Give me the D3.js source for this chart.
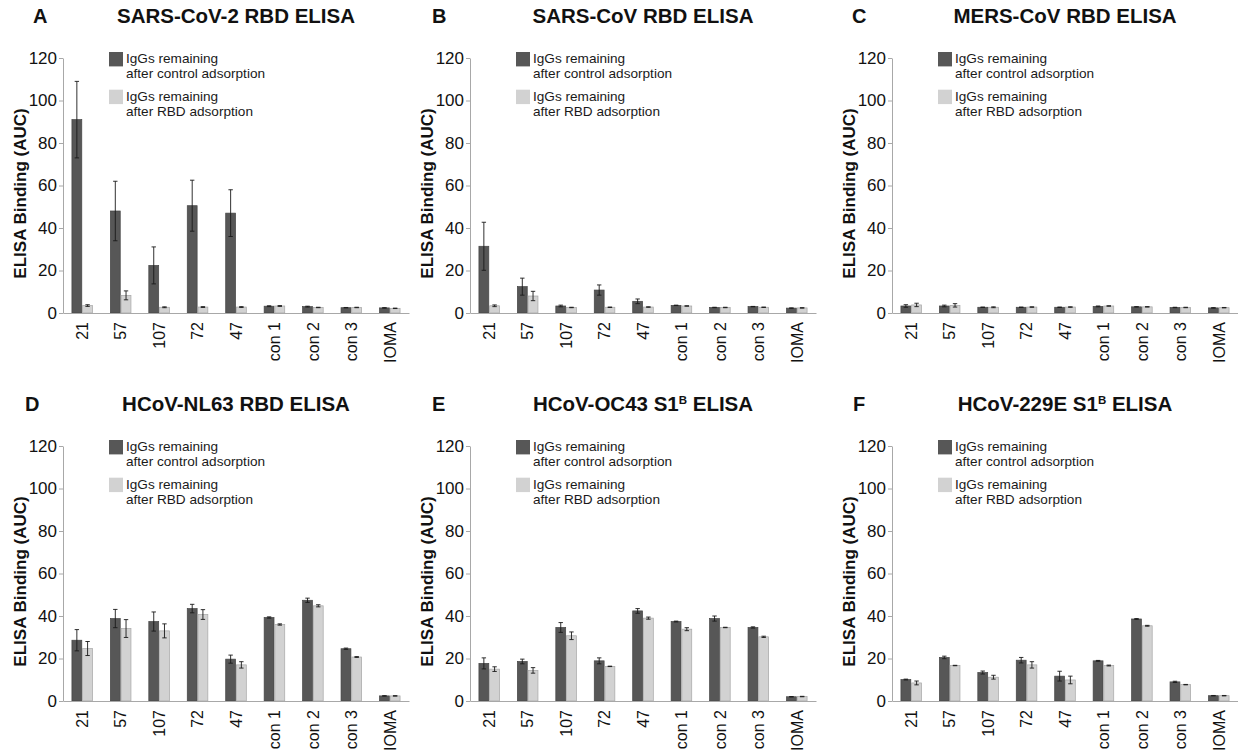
<!DOCTYPE html>
<html><head><meta charset="utf-8">
<script src="https://cdn.jsdelivr.net/npm/d3@7"></script>
<style>
body{margin:0;background:#fff}
svg{display:block}
text{font-family:"Liberation Sans",Arial,Helvetica,sans-serif}
</style>
</head><body><svg id="chart" width="1238" height="753"></svg>
<script>
// ---------- data ----------
const categories = ["21","57","107","72","47","con 1","con 2","con 3","IOMA"];
const yTicks = [0,20,40,60,80,100,120];
const seriesNames = ["control","rbd"];
const legendLine1 = ["IgGs remaining","IgGs remaining"];
const legendLine2 = ["after control adsorption","after RBD adsorption"];
const panelLetters = ["A","B","C","D","E","F"];
const panelTitles = ["SARS-CoV-2 RBD ELISA","SARS-CoV RBD ELISA","MERS-CoV RBD ELISA",
                     "HCoV-NL63 RBD ELISA","HCoV-OC43 S1^B ELISA","HCoV-229E S1^B ELISA"];
const yLabel = "ELISA Binding (AUC)";

// A: SARS-CoV-2 RBD
const sars2Control    = [91, 48, 22.4, 50.5, 47, 3.2, 3.0, 2.5, 2.4];
const sars2ControlErr = [18, 14, 8.7, 12, 11, 0.2, 0.2, 0.1, 0.1];
const sars2Rbd        = [3.5, 8.3, 2.7, 2.8, 2.8, 3.3, 2.6, 2.6, 2.2];
const sars2RbdErr     = [0.4, 2.1, 0.2, 0.2, 0.2, 0.2, 0.1, 0.1, 0.1];
// B: SARS-CoV RBD
const sarsControl     = [31.4, 12.4, 3.3, 10.8, 5.5, 3.6, 2.6, 3.0, 2.3];
const sarsControlErr  = [11.3, 4.0, 0.4, 2.4, 1.1, 0.1, 0.1, 0.1, 0.1];
const sarsRbd         = [3.4, 8.0, 2.6, 2.7, 2.8, 3.3, 2.6, 2.7, 2.4];
const sarsRbdErr      = [0.4, 2.2, 0.1, 0.1, 0.1, 0.1, 0.1, 0.1, 0.1];
// C: MERS-CoV RBD
const mersControl     = [3.3, 3.3, 2.7, 2.7, 2.7, 3.1, 2.9, 2.6, 2.4];
const mersControlErr  = [0.6, 0.4, 0.1, 0.1, 0.1, 0.2, 0.1, 0.1, 0.1];
const mersRbd         = [3.8, 3.6, 2.7, 2.8, 2.8, 3.3, 2.9, 2.6, 2.5];
const mersRbdErr      = [0.8, 0.8, 0.2, 0.1, 0.1, 0.1, 0.1, 0.1, 0.1];
// D: HCoV-NL63 RBD
const nl63Control     = [28.6, 38.8, 37.4, 43.5, 19.7, 39.3, 47.4, 24.6, 2.4];
const nl63ControlErr  = [5.0, 4.3, 4.5, 2.0, 1.9, 0.3, 1.0, 0.3, 0.1];
const nl63Rbd         = [24.7, 34.1, 33.0, 40.7, 17.0, 36.0, 44.8, 20.7, 2.4];
const nl63RbdErr      = [3.3, 4.2, 3.3, 2.3, 1.5, 0.3, 0.5, 0.2, 0.1];
// E: HCoV-OC43 S1B
const oc43Control     = [17.7, 18.6, 34.6, 18.9, 42.4, 37.4, 38.8, 34.6, 2.0];
const oc43ControlErr  = [2.6, 1.1, 2.3, 1.4, 1.1, 0.2, 1.2, 0.3, 0.1];
const oc43Rbd         = [15.0, 14.4, 30.7, 16.3, 39.0, 33.8, 34.6, 30.2, 2.1];
const oc43RbdErr      = [1.1, 1.3, 1.8, 0.1, 0.5, 0.7, 0.1, 0.3, 0.1];
// F: HCoV-229E S1B
const e229Control     = [10.1, 20.5, 13.4, 19.2, 11.7, 18.9, 38.6, 9.0, 2.5];
const e229ControlErr  = [0.2, 0.6, 0.7, 1.3, 2.3, 0.2, 0.2, 0.3, 0.1];
const e229Rbd         = [8.5, 16.7, 11.2, 17.0, 9.9, 16.7, 35.4, 7.7, 2.5];
const e229RbdErr      = [0.9, 0.1, 0.9, 1.5, 1.8, 0.2, 0.2, 0.1, 0.1];

const panelData = [
  [sars2Control, sars2ControlErr, sars2Rbd, sars2RbdErr],
  [sarsControl, sarsControlErr, sarsRbd, sarsRbdErr],
  [mersControl, mersControlErr, mersRbd, mersRbdErr],
  [nl63Control, nl63ControlErr, nl63Rbd, nl63RbdErr],
  [oc43Control, oc43ControlErr, oc43Rbd, oc43RbdErr],
  [e229Control, e229ControlErr, e229Rbd, e229RbdErr]
];

// ---------- layout ----------
const colX = [63, 470, 892];
const rowZero = [313, 701];
const plotW = 346, plotH = 255;
const letterX = [33, 432, 852, 25, 432, 853];
const titleBase = [23, 411];
const colors = {control:"#575757", rbd:"#d2d2d2"};
const strokes = {control:"#454545", rbd:"#a6a6a6"};

const svg = d3.select("#chart");

panelData.forEach((pd, i) => {
  const col = i % 3, row = Math.floor(i / 3);
  const ox = colX[col], zeroY = rowZero[row];
  const g = svg.append("g").attr("transform", `translate(${ox},${zeroY - plotH})`);

  const x0 = d3.scaleBand().domain(categories).range([0, plotW]).padding(0);
  const x1 = d3.scaleBand().domain(seriesNames)
      .range([x0.bandwidth()/2 - 10.3, x0.bandwidth()/2 + 10.3]).paddingInner(0.08);
  const y = d3.scaleLinear().domain([0, 120]).range([plotH, 0]);

  const rows = categories.map((c, k) => ({
    cat: c,
    vals: [
      {s:"control", v: pd[0][k], e: pd[1][k]},
      {s:"rbd", v: pd[2][k], e: pd[3][k]}
    ]
  }));

  // bars
  const grp = g.selectAll("g.cat").data(rows).enter().append("g")
      .attr("transform", d => `translate(${x0(d.cat)},0)`);
  grp.selectAll("rect").data(d => d.vals).enter().append("rect")
      .attr("x", d => x1(d.s))
      .attr("width", x1.bandwidth())
      .attr("y", d => y(d.v))
      .attr("height", d => y(0) - y(d.v))
      .attr("fill", d => colors[d.s])
      .attr("stroke", d => strokes[d.s])
      .attr("stroke-width", 0.7);
  // error bars
  const eb = grp.selectAll("g.err").data(d => d.vals).enter().append("g")
      .attr("stroke", "#1a1a1a").attr("stroke-width", 0.9);
  eb.append("line")
      .attr("x1", d => x1(d.s) + x1.bandwidth()/2).attr("x2", d => x1(d.s) + x1.bandwidth()/2)
      .attr("y1", d => y(d.v + d.e)).attr("y2", d => y(Math.max(0, d.v - d.e)));
  eb.append("line")
      .attr("x1", d => x1(d.s) + x1.bandwidth()/2 - 2.2).attr("x2", d => x1(d.s) + x1.bandwidth()/2 + 2.2)
      .attr("y1", d => y(d.v + d.e)).attr("y2", d => y(d.v + d.e));
  eb.append("line")
      .attr("x1", d => x1(d.s) + x1.bandwidth()/2 - 2.2).attr("x2", d => x1(d.s) + x1.bandwidth()/2 + 2.2)
      .attr("y1", d => y(Math.max(0, d.v - d.e))).attr("y2", d => y(Math.max(0, d.v - d.e)));

  // y axis
  const ya = g.append("g").call(d3.axisLeft(y).tickValues(yTicks).tickSize(4).tickPadding(2).tickSizeOuter(0));
  ya.select(".domain").attr("stroke", "#a8a8a8");
  ya.selectAll(".tick line").attr("stroke", "#a8a8a8");
  ya.selectAll(".tick text").attr("font-size", 17).attr("fill", "#111")
     .attr("font-family", '"Liberation Sans",Arial,sans-serif');

  // x axis
  const xa = g.append("g").attr("transform", `translate(0,${plotH})`)
      .call(d3.axisBottom(x0).tickSize(0).tickPadding(0).tickSizeOuter(0));
  xa.select(".domain").attr("stroke", "#a8a8a8");
  xa.selectAll(".tick text")
      .attr("font-size", 16).attr("fill", "#111")
      .attr("font-family", '"Liberation Sans",Arial,sans-serif')
      .attr("text-anchor", "end")
      .attr("transform", "translate(0,9) rotate(-90)")
      .attr("x", 0).attr("y", 0).attr("dy", "0.36em");

  // y label
  g.append("text")
      .attr("transform", `translate(-43,${plotH/2 + 8}) rotate(-90)`)
      .attr("text-anchor", "middle").attr("dy", "0.35em")
      .attr("font-size", 17).attr("font-weight", "bold").attr("fill", "#111")
      .text(yLabel);

  // legend
  const lg = g.append("g").attr("transform", `translate(46,${y(120) - 6})`);
  seriesNames.forEach((s, k) => {
    const yy = k * 37.7;
    lg.append("rect").attr("x", 0).attr("y", yy).attr("width", 14).attr("height", 14.4)
      .attr("fill", colors[s]);
    lg.append("text").attr("x", 17).attr("y", yy + 11).attr("font-size", 13.6).attr("fill", "#1a1a1a")
      .text(legendLine1[k]);
    lg.append("text").attr("x", 17).attr("y", yy + 26.3).attr("font-size", 13.6).attr("fill", "#1a1a1a")
      .text(legendLine2[k]);
  });

  // panel letter
  svg.append("text").attr("x", letterX[i]).attr("y", titleBase[row])
     .attr("font-size", 20).attr("font-weight", "bold").attr("fill", "#111").text(panelLetters[i]);

  // title (with optional superscript)
  const parts = panelTitles[i].split("^");
  const t = svg.append("text").attr("x", ox + plotW/2).attr("y", titleBase[row])
     .attr("text-anchor", "middle").attr("font-size", 20.5).attr("font-weight", "bold").attr("fill", "#111");
  if (parts.length === 1) {
    t.text(parts[0]);
  } else {
    t.append("tspan").text(parts[0]);
    const sup = parts[1].charAt(0), rest = parts[1].slice(1);
    t.append("tspan").attr("font-size", 11.5).attr("dy", -7).text(sup);
    t.append("tspan").attr("dy", 7).text(rest);
  }
});
</script>
</body></html>
